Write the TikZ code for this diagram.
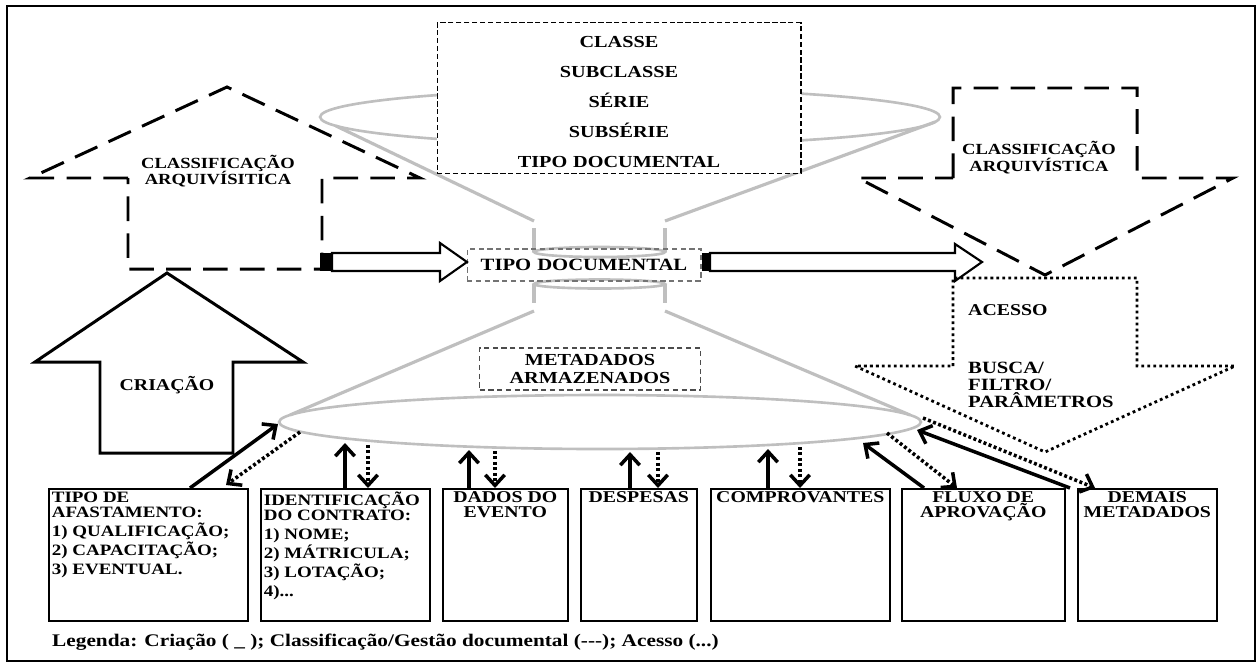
\documentclass[tikz,border=0pt]{standalone}
\usepackage{fontspec}
\setmainfont{Liberation Serif}[FakeStretch=1.2]
\usetikzlibrary{arrows.meta}
\setlength{\lineskiplimit}{-20pt}

\begin{document}
\begin{tikzpicture}[x=0.02cm, y=-0.02cm,
	font=\fontsize{9.4}{10}\selectfont\bfseries,
	funnel/.style={black!25, line width=1.8pt},
	classdash/.style={line width=1.7pt, dash pattern=on 14pt off 7pt},
	accessdot/.style={line width=1.6pt, dash pattern=on 1.6pt off 1.8pt},
	hollow/.style={line width=1.2pt},
	mbox/.style={draw, line width=0.9pt, anchor=north west, minimum height=2.64cm, inner sep=0pt},
	ltext/.style={anchor=north west, align=left, inner sep=2pt, font=\fontsize{9}{10}\selectfont\bfseries},
	ctext/.style={anchor=north, align=center, inner sep=2pt, font=\fontsize{9.4}{8.6}\selectfont\bfseries},
	upflow/.style={line width=2pt, -{Straight Barb[length=6pt,width=11pt]}},
	downflow/.style={upflow, dash pattern=on 1.7pt off 1.4pt}]
	\useasboundingbox (0,0) rectangle (1256,663);
	\draw[line width=1.2pt] (7,6) rectangle (1255,661);

	% funil
	\draw[funnel, line width=1.5pt] (630,117) ellipse [x radius=6.2cm, y radius=0.56cm];
	\draw[funnel] (336,126) -- (534,221) (935,122) -- (665,221);
	\draw[funnel] (534,228) -- (534,252) (665,228) -- (665,252);
	\draw[funnel, line width=1.5pt] (599.5,252) ellipse [x radius=1.31cm, y radius=0.1cm];
	\draw[funnel, line width=1.5pt] (599.5,284) ellipse [x radius=1.31cm, y radius=0.09cm];
	\draw[funnel] (534,284) -- (534,303) (665,284) -- (665,303);
	\draw[funnel] (534,311) -- (290,415) (665,311) -- (910,415);
	\draw[funnel, line width=1.5pt] (600,422) ellipse [x radius=6.42cm, y radius=0.54cm];

	\node[draw, fill=white, line width=0.6pt, dash pattern=on 3pt off 1.5pt, minimum width=7.28cm, minimum height=2.8cm, align=center, font=\fontsize{9.6}{17}\selectfont\bfseries] (classes) at (619,98) {CLASSE\rule{0pt}{10.8pt}\\SUBCLASSE\\SÉRIE\\SUBSÉRIE\\TIPO\hspace{0.35em}DOCUMENTAL};

	% classificacao
	\draw[classdash] (128,178) -- (30,178) -- (227,87) -- (420,178) -- (322,178) -- (322,269) -- (128,269) -- cycle;
	\node[align=center, font=\fontsize{8.8}{9.1}\selectfont\bfseries] (classL) at (218,171) {CLASSIFICAÇÃO\\ARQUIVÍSITICA};
	\draw[classdash] (953,178) -- (953,88) -- (1137,88) -- (1137,178) -- (1233,178) -- (1045,275) -- (858,178) -- cycle;
	\node[align=center, font=\fontsize{8.8}{9.7}\selectfont\bfseries] (classR) at (1039,158) {CLASSIFICAÇÃO\\ARQUIVÍSTICA};

	% criacao
	\draw[line width=1.7pt] (100,453) -- (100,362) -- (35,362) -- (167,273) -- (303,362) -- (233,362) -- (233,453) -- cycle;
	\node (criacao) at (167,385) {CRIAÇÃO};

	% acesso
	\draw[accessdot] (953,366) -- (953,278) -- (1137,278) -- (1137,366) -- (1235,366) -- (1045,452) -- (855,366) -- cycle;
	\node[anchor=west] (acesso) at (962,310) {ACESSO};
	\node[anchor=north west, align=left, font=\fontsize{9.8}{9.7}\selectfont\bfseries] (busca) at (962,356) {BUSCA/\\FILTRO/\\PARÂMETROS};

	% tipo documental
	\node[draw=black!55, line width=0.6pt, dash pattern=on 3pt off 2pt, minimum width=4.68cm, minimum height=0.64cm, font=\fontsize{9.8}{10}\selectfont\bfseries] (tipo) at (584,265) {TIPO\hspace{0.35em}DOCUMENTAL};
	\fill (320,253) rectangle (332,271);
	\draw[hollow] (332,253) -- (440,253) -- (440,243) -- (467,262) -- (440,281) -- (440,271) -- (332,271) -- cycle;
	\fill (tipo.east |- 0,253) rectangle (710,271);
	\draw[hollow] (710,253) -- (955,253) -- (955,244) -- (982,262) -- (955,281) -- (955,271) -- (710,271) -- cycle;

	\node[draw=black!70, line width=0.6pt, dash pattern=on 3pt off 2pt, minimum width=4.42cm, minimum height=0.84cm, align=center, font=\fontsize{9.6}{10.8}\selectfont\bfseries] (meta) at (590,369) {METADADOS\\ARMAZENADOS};

	% metadados
	\node[mbox, minimum width=3.98cm] (afast) at (48,488) {};
	\node[mbox, minimum width=3.38cm] (contrato) at (260,488) {};
	\node[mbox, minimum width=2.5cm] (evento) at (442,488) {};
	\node[mbox, minimum width=2.32cm] (despesas) at (580,488) {};
	\node[mbox, minimum width=3.58cm] (comprov) at (710,488) {};
	\node[mbox, minimum width=3.26cm] (fluxo) at (901,488) {};
	\node[mbox, minimum width=2.78cm] (demais) at (1077,488) {};

	\node[ltext] (afastT) at (afast.north west) {TIPO DE\\[-1.5pt]AFASTAMENTO:\\[0.8pt]1) QUALIFICAÇÃO;\\[0.8pt]2) CAPACITAÇÃO;\\[0.8pt]3) EVENTUAL.};
	\node[ltext] (contratoT) at (contrato.north west) {IDENTIFICAÇÃO\\[-1.5pt]DO CONTRATO:\\[0.8pt]1) NOME;\\[0.8pt]2) MÁTRICULA;\\[0.8pt]3) LOTAÇÃO;\\[0.8pt]4)...};
	\node[ctext] (eventoT) at (evento.north) {DADOS DO\\EVENTO};
	\node[ctext] (despesasT) at (despesas.north) {DESPESAS};
	\node[ctext] (comprovT) at (comprov.north) {COMPROVANTES};
	\node[ctext] (fluxoT) at (fluxo.north) {FLUXO DE\\APROVAÇÃO};
	\node[ctext] (demaisT) at (demais.north) {DEMAIS\\METADADOS};

	\draw[upflow] (190,0 |- afast.north) -- (278,424);
	\draw[downflow] (300,432) -- (226,485);
	\draw[upflow] (345,0 |- contrato.north) -- (345,443);
	\draw[downflow] (368,445) -- (368,0 |- contrato.north);
	\draw[upflow] (469,0 |- evento.north) -- (469,450);
	\draw[downflow] (495,451) -- (495,0 |- evento.north);
	\draw[upflow] (630,0 |- despesas.north) -- (630,452);
	\draw[downflow] (658,452) -- (658,0 |- despesas.north);
	\draw[upflow] (768,0 |- comprov.north) -- (768,449);
	\draw[downflow] (800,447) -- (800,0 |- comprov.north);
	\draw[upflow] (924,0 |- fluxo.north) -- (863,443);
	\draw[downflow] (887,433) -- (957,0 |- fluxo.north);
	\draw[upflow] (1070,0 |- demais.north) -- (917,430);
	\draw[downflow] (923,418) -- (1095,0 |- demais.north);

	\node[anchor=west, font=\fontsize{10.1}{12}\selectfont\bfseries] (legenda) at (46,642) {Legenda: Criação ( \_ ); Classificação/Gestão documental ({-}{-}{-}); Acesso (...)};
\end{tikzpicture}
\end{document}
